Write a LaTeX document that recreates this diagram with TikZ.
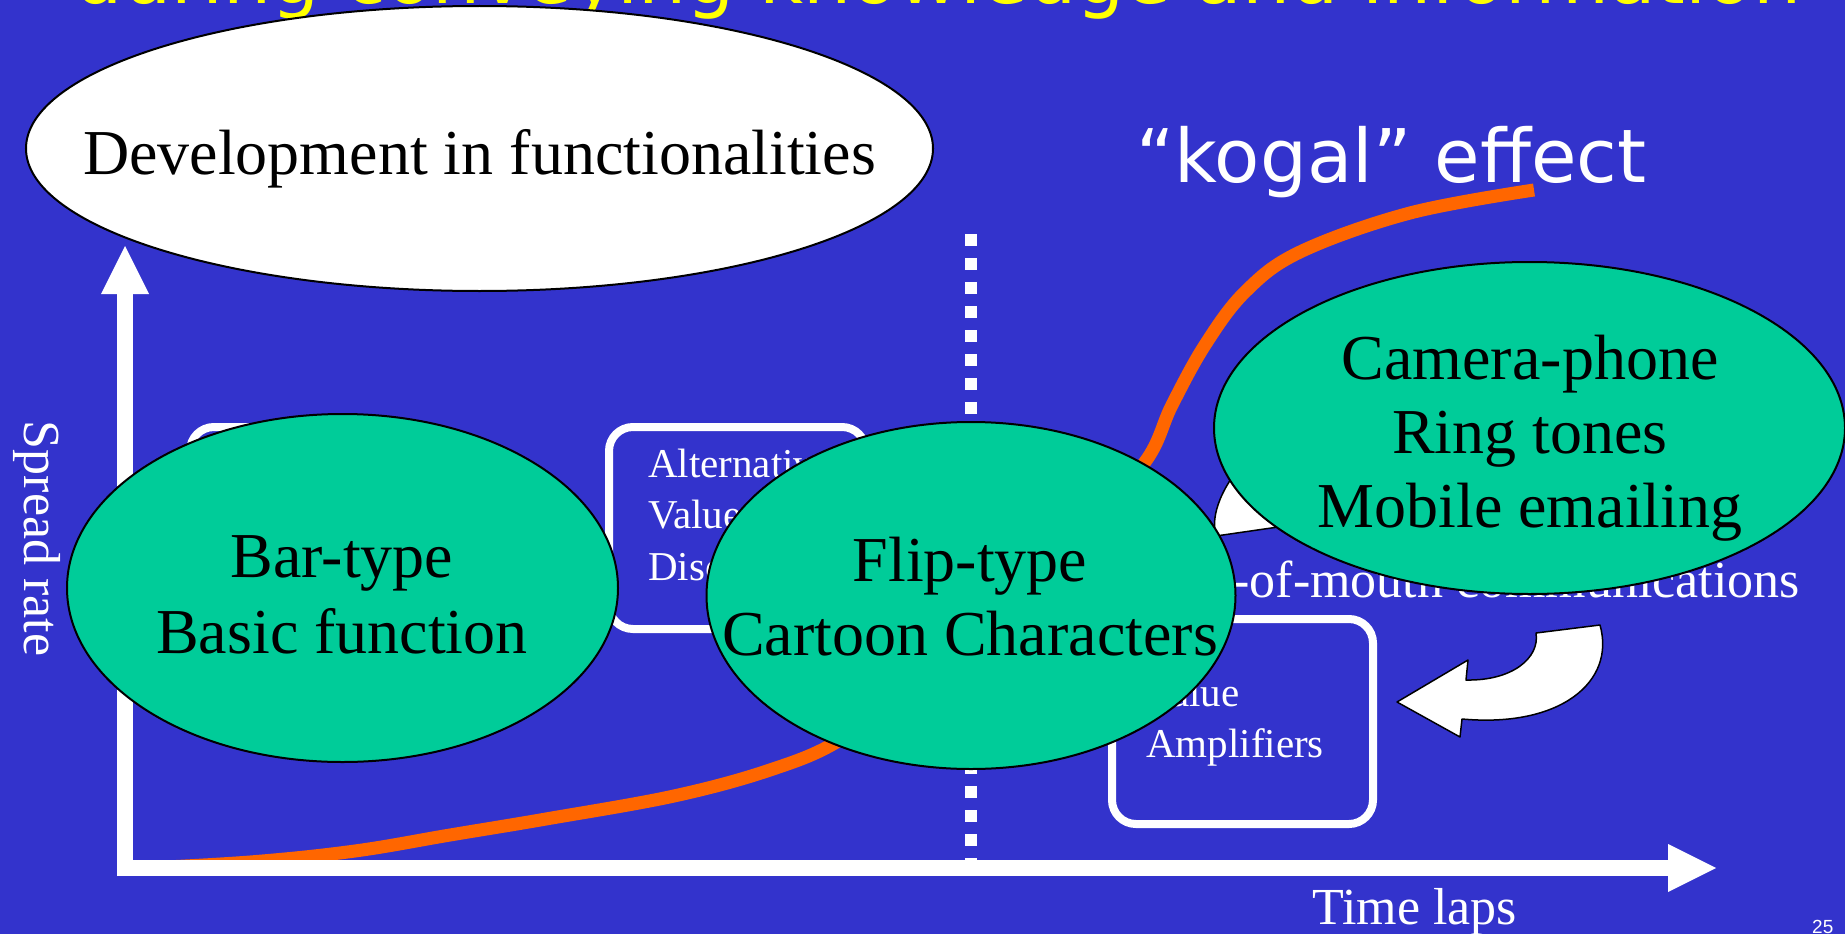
\documentclass[tikz,border=0pt]{standalone}
\usepackage{fontspec}
\setmainfont{Liberation Serif}
\newfontfamily\verd{DejaVu Sans}
\newfontfamily\arialf{Liberation Sans}
\usetikzlibrary{shapes.geometric}
\definecolor{bg}{RGB}{51,51,204}
\definecolor{grn}{RGB}{0,204,153}
\definecolor{org}{RGB}{255,102,0}
\definecolor{ylw}{RGB}{255,255,0}
\begin{document}
\begin{tikzpicture}[x=1pt,y=-1pt,
  bubble/.style={ellipse, draw=black, line width=2pt, fill=grn, inner sep=0pt},
  valuebox/.style={rectangle, draw=white, line width=8pt, rounded corners=24pt, inner sep=0pt},
  big/.style={font=\fontsize{64}{74}\selectfont, text=black, inner sep=0pt, anchor=base},
  small/.style={font=\fontsize{41}{49}\selectfont, text=white, inner sep=0pt, anchor=base west},
  axlabel/.style={font=\fontsize{52}{60}\selectfont, text=white, inner sep=0pt},
  versus/.style={font=\verd\fontsize{76}{90}\selectfont, inner sep=0pt},
  outline/.style={draw=black, fill=white, line width=1.5pt, line join=round},
]
\fill[bg] (0,0) rectangle (1845,934);
\useasboundingbox (0,0) rectangle (1845,934);
\clip (0,0) rectangle (1845,934);

% title (cut off at top)
\node[versus, text=ylw, anchor=base] (title) at (938,4) {during conveying knowledge and information};

% development ellipse
\node[ellipse, draw=black, line width=2pt, fill=white, inner sep=0pt,
      minimum width=907pt, minimum height=285pt] (dev) at (479.5,148.5) {};
\node[big] (devtext) at (479.5,174) {Development in functionalities};

% kogal effect
\node[versus, font=\verd\fontsize{74}{88}\selectfont, text=white, anchor=base west] (kogal) at (1136,182) {“kogal” effect};

% orange S-curve
\draw[org, line width=13pt] plot[smooth, tension=0.6] coordinates {
  (126,869) (250,862) (355,851) (450,835) (546,819) (674,796) (770,770)
  (840,740) (920,680) (1000,600) (1080,530) (1145,462) (1172,405)
  (1205,345) (1245,292) (1300,252) (1410,213) (1534,190)};

% axes
\coordinate (origin) at (125,868);
\coordinate (ytop) at (125,294);
\coordinate (xend) at (1668,868);
\draw[white, line width=16pt] (125,876) -- (ytop);
\draw[white, line width=16pt] (117,868) -- (xend);
\fill[white] (101,294) -- (149,294) -- (125,246) -- cycle;
\fill[white] (1668,844) -- (1668,892) -- (1716,868) -- cycle;

% dotted divider
\coordinate (dtop) at (970.5,234);
\coordinate (dbot) at (970.5,870);
\draw[white, line width=12pt, dash pattern=on 12pt off 12pt] (dtop) -- (dbot);

% value boxes
\node[valuebox, minimum width=230pt, minimum height=202pt] (box1) at (305,528) {};
\node[valuebox, minimum width=257pt, minimum height=202pt] (box2) at (737.5,528) {};
\node[valuebox, minimum width=261pt, minimum height=205pt] (box3) at (1242.5,721.5) {};
\node[small] (b2a) at (648,477) {Alternative};
\node[small] (b2b) at (648,528) {Value};
\node[small] (b2c) at (648,580) {Discoverers};
\node[small] (b3a) at (1146,706) {Value};
\node[small] (b3b) at (1146,757) {Amplifiers};

% word of mouth
\node[axlabel, anchor=base west] (wom) at (1118,597) {Word-of-mouth communications};

% white curved-arrow fragment behind the camera bubble
\draw[outline] (1250,455) .. controls (1222,485) and (1210,515) .. (1216,536)
  -- (1292,525) -- (1290,460) -- cycle;

% curved arrow pointing to Value Amplifiers
\draw[outline] (1600,625) -- (1536,633) .. controls (1540,658) and (1512,681) .. (1466,680)
  -- (1468,660) -- (1397,702) -- (1460,737) -- (1462,719)
  .. controls (1560,728) and (1616,682) .. (1600,625) -- cycle;

% bubbles
\node[bubble, minimum width=551pt, minimum height=348pt] (bar) at (342.5,588) {};
\node[big] (bar1) at (342,577) {Bar-type};
\node[big] (bar2) at (342,653) {Basic function};

\node[bubble, minimum width=529pt, minimum height=347pt] (flip) at (971,595.5) {};
\node[big] (flip1) at (970,581) {Flip-type};
\node[big] (flip2) at (970,655) {Cartoon Characters};

\node[bubble, minimum width=631pt, minimum height=332pt] (cam) at (1529.5,428) {};
\node[big] (cam1) at (1530,379) {Camera-phone};
\node[big] (cam2) at (1530,453) {Ring tones};
\node[big] (cam3) at (1530,527) {Mobile emailing};

% axis labels
\node[axlabel, anchor=base, rotate=-90] (spread) at (24,538.5) {Spread rate};
\node[axlabel, anchor=base west] (time) at (1312,924) {Time laps};
\node[font=\arialf\fontsize{19}{22}\selectfont, text=white, inner sep=0pt, anchor=base west] (pagenum) at (1812,933) {25};
\end{tikzpicture}
\end{document}
